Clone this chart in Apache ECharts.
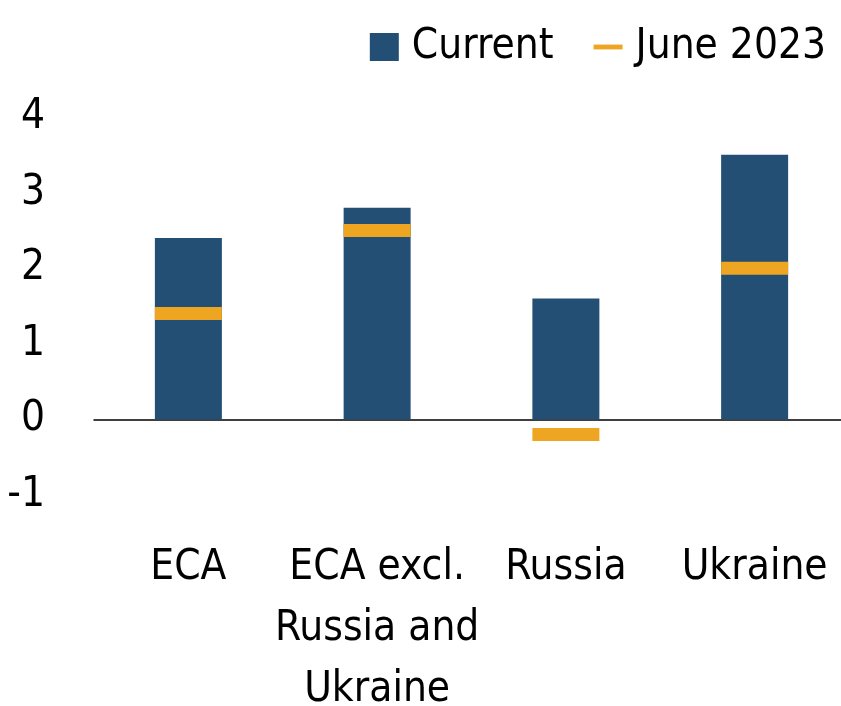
<!DOCTYPE html>
<html>
<head>
<meta charset="utf-8">
<script src="https://cdn.jsdelivr.net/npm/echarts@6/dist/echarts.min.js"></script>
<style>
	html, body { margin: 0; padding: 0; background: #fff; }
	#chart { width: 841px; height: 706px; }
</style>
</head>
<body>
<div id="chart"></div>
<script>
// values
var categories = ['ECA', 'ECA excl.\nRussia and\nUkraine', 'Russia', 'Ukraine'];
var current = [2.4, 2.8, 1.6, 3.5];
var june2023 = [1.4, 2.5, -0.2, 2.0];

var FONT = '"Liberation Sans Narrow", "DejaVu Sans Condensed", "Roboto", sans-serif';
var NAVY = '#244F75';
var GOLD = '#EEA521';

var chart = echarts.init(document.getElementById('chart'));
chart.setOption({
	animation: false,
	legend: {
		right: 10,
		top: 21,
		itemWidth: 29,
		itemHeight: 28,
		itemGap: 40,
		textStyle: {
			fontFamily: FONT,
			fontSize: 42,
			color: '#000',
			padding: [0, 0, 0, 8]
		},
		data: [
			{ name: 'Current', icon: 'rect' },
			{ name: 'June 2023', icon: 'path://M0,0 L24,0 L24,4 L0,4 Z' }
		]
	},
	grid: {
		left: 94,
		right: -8,
		top: 117,
		bottom: 211,
		outerBoundsMode: 'none'
	},
	xAxis: {
		type: 'category',
		data: categories,
		axisLine: { lineStyle: { color: '#000', width: 1.5 } },
		axisTick: { show: false },
		axisLabel: {
			margin: 43,
			fontFamily: FONT,
			fontSize: 42,
			lineHeight: 61,
			color: '#000',
			interval: 0
		}
	},
	yAxis: {
		type: 'value',
		min: -1,
		max: 4,
		interval: 1,
		splitLine: { show: false },
		axisLine: { show: false },
		axisTick: { show: false },
		axisLabel: {
			margin: 49,
			fontFamily: FONT,
			fontSize: 42,
			color: '#000'
		}
	},
	series: [
		{
			name: 'Current',
			type: 'bar',
			barWidth: 67,
			itemStyle: { color: NAVY },
			data: current
		},
		{
			name: 'June 2023',
			type: 'scatter',
			symbol: 'rect',
			symbolSize: [67, 13],
			itemStyle: { color: GOLD, opacity: 1 },
			data: june2023,
			z: 3
		}
	]
});
</script>
</body>
</html>
